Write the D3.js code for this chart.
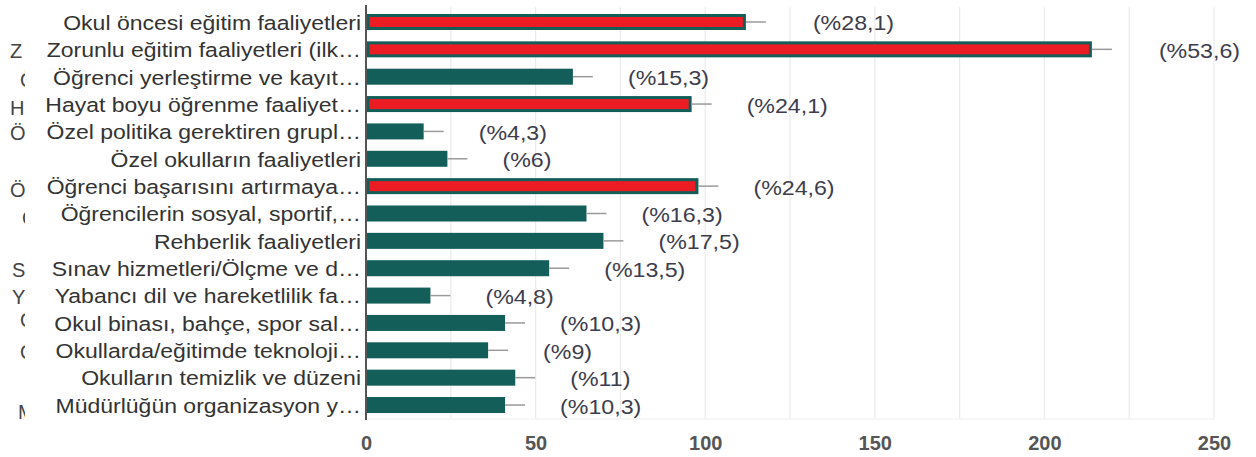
<!DOCTYPE html>
<html>
<head>
<meta charset="utf-8">
<script src="https://cdn.jsdelivr.net/npm/d3@7"></script>
<style>
  html, body { margin: 0; padding: 0; background: #fff; }
  svg { display: block; font-family: "Liberation Sans", Arial, sans-serif; }
</style>
</head>
<body>
<svg id="chart" width="1256" height="457"></svg>
<script>
// ---------- data ----------
const categories = [
  "Okul öncesi eğitim faaliyetleri",
  "Zorunlu eğitim faaliyetleri (ilk…",
  "Öğrenci yerleştirme ve kayıt…",
  "Hayat boyu öğrenme faaliyet…",
  "Özel politika gerektiren grupl…",
  "Özel okulların faaliyetleri",
  "Öğrenci başarısını artırmaya…",
  "Öğrencilerin sosyal, sportif,…",
  "Rehberlik faaliyetleri",
  "Sınav hizmetleri/Ölçme ve d…",
  "Yabancı dil ve hareketlilik fa…",
  "Okul binası, bahçe, spor sal…",
  "Okullarda/eğitimde teknoloji…",
  "Okulların temizlik ve düzeni",
  "Müdürlüğün organizasyon y…"
];
const counts = [112, 214, 61, 96, 17, 24, 98, 65, 70, 54, 19, 41, 36, 44, 41];
const percentLabels = ["(%28,1)", "(%53,6)", "(%15,3)", "(%24,1)", "(%4,3)", "(%6)", "(%24,6)",
  "(%16,3)", "(%17,5)", "(%13,5)", "(%4,8)", "(%10,3)", "(%9)", "(%11)", "(%10,3)"];
const highlighted = [true, true, false, true, false, false, true, false, false, false, false, false, false, false, false];
const xTicks = [0, 50, 100, 150, 200, 250];
const gridValues = [25, 50, 75, 100, 125, 150, 175, 200, 225, 250];
// partly hidden letters of an underlying label column at the far left
const ghostLetters = ["Z", "Ö", "H", "Ö", "Ö", "Ö", "S", "Y", "O", "O", "M"];

// ---------- drawing ----------
const svg = d3.select("#chart");
const TEAL = "#145e59", RED = "#ec1c24";

const x = d3.scaleLinear().domain([0, 250]).range([366, 1214]);
const y = d3.scaleBand().domain(d3.range(categories.length))
  .range([8.3, 418.7]).paddingInner(0.415).paddingOuter(0.2075);

// ghost letters (clipped)
const ghostY = [51, 80, 108, 133, 190, 218, 270, 297, 320, 352, 412];
const ghostX = [10, 20, 10, 10, 10, 22, 12, 12, 20, 20, 18];
svg.append("clipPath").attr("id", "ghostClip").append("rect")
  .attr("x", 0).attr("y", 0).attr("width", 25).attr("height", 457);
svg.append("g").attr("clip-path", "url(#ghostClip)")
  .selectAll("text").data(ghostLetters).join("text")
  .attr("x", (d, i) => ghostX[i]).attr("y", (d, i) => ghostY[i])
  .attr("dy", "0.35em").attr("font-size", 20).attr("fill", "#444")
  .text(d => d);

// gridlines
svg.append("g").selectAll("line").data(gridValues).join("line")
  .attr("x1", d => x(d)).attr("x2", d => x(d))
  .attr("y1", 7).attr("y2", 419)
  .attr("stroke", "#ebebeb").attr("stroke-width", 1.2);
svg.append("line").attr("x1", x(0)).attr("x2", x(250)).attr("y1", 419).attr("y2", 419)
  .attr("stroke", "#eeeeee").attr("stroke-width", 1);

// bars
const bars = svg.append("g");
bars.selectAll("rect.outer").data(counts).join("rect").attr("class", "outer")
  .attr("x", x(0) + 1).attr("y", (d, i) => y(i))
  .attr("width", d => x(d) - x(0) - 1).attr("height", y.bandwidth())
  .attr("fill", TEAL);
bars.selectAll("rect.inner").data(counts.map((v, i) => ({ v, i })).filter(d => highlighted[d.i])).join("rect")
  .attr("class", "inner")
  .attr("x", x(0) + 3.5).attr("y", d => y(d.i) + 3)
  .attr("width", d => x(d.v) - x(0) - 6.5).attr("height", y.bandwidth() - 6)
  .attr("fill", RED);

// whiskers
bars.selectAll("line.whisker").data(counts).join("line").attr("class", "whisker")
  .attr("x1", d => x(d)).attr("x2", d => x(d) + 20)
  .attr("y1", (d, i) => y(i) + y.bandwidth() / 2).attr("y2", (d, i) => y(i) + y.bandwidth() / 2)
  .attr("stroke", "#9a9a9a").attr("stroke-width", 1.5);

// percent labels
svg.append("g").selectAll("text").data(percentLabels).join("text")
  .attr("transform", (d, i) => `translate(${x(counts[i]) + (i < 2 ? 67 : 55)},${y(i) + y.bandwidth() / 2 + 1.5}) scale(1.16,1)`)
  .attr("dy", "0.35em").attr("font-size", 20).attr("fill", "#3d3d4d")
  .text(d => d);

// category labels
svg.append("rect").attr("x", 26).attr("y", 0).attr("width", 338).attr("height", 425).attr("fill", "#fff");
svg.append("g").selectAll("text").data(categories).join("text")
  .attr("transform", (d, i) => `translate(361,${y(i) + y.bandwidth() / 2 + 1}) scale(1.18,1)`)
  .attr("text-anchor", "end").attr("dy", "0.35em")
  .attr("font-size", 19.5).attr("fill", "#333")
  .text(d => d);

// axis line
svg.append("line").attr("x1", 366).attr("x2", 366).attr("y1", 5).attr("y2", 420)
  .attr("stroke", "#555").attr("stroke-width", 2);

// x tick labels
const xAxis = d3.axisBottom(x).tickValues(xTicks).tickSize(0).tickPadding(0);
const ax = svg.append("g").attr("transform", "translate(0,436)").call(xAxis);
ax.select(".domain").remove();
ax.selectAll("text").attr("font-size", 20).attr("fill", "#555").attr("font-weight", "bold")
  .attr("font-family", "Liberation Sans, Arial, sans-serif").attr("dy", "0.72em");
</script>
</body>
</html>
